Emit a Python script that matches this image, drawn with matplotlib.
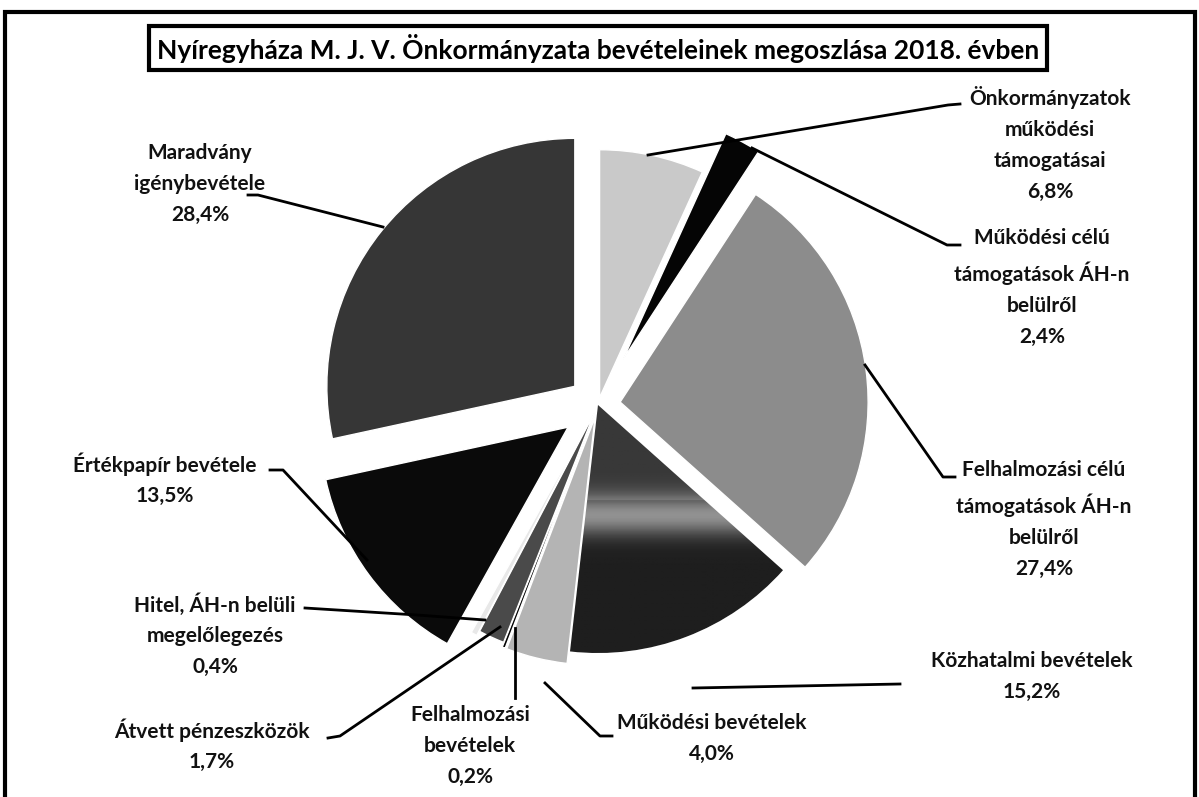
import matplotlib.pyplot as plt
import numpy as np
from matplotlib.patches import Rectangle

plt.rcParams['font.family'] = ['Lato', 'DejaVu Sans']

# adatok (óramutató járása szerint, 12 órától)
labels = ['Önkormányzatok\nműködési\ntámogatásai',
          'Működési célú\ntámogatások ÁH-n\nbelülről',
          'Felhalmozási célú\ntámogatások ÁH-n\nbelülről',
          'Közhatalmi bevételek',
          'Működési bevételek',
          'Felhalmozási\nbevételek',
          'Átvett pénzeszközök',
          'Hitel, ÁH-n belüli\nmegelőlegezés',
          'Értékpapír bevétele',
          'Maradvány\nigénybevétele']
shares = [6.8, 2.4, 27.4, 15.2, 4.0, 0.2, 1.7, 0.4, 13.5, 28.4]
explode = [0.03, 0.21, 0.09, 0.0, 0.05, 0.05, 0.03, 0.05, 0.15, 0.12]
colors = ['#c9c9c9', '#050505', '#8c8c8c', '#1c1c1c', '#b4b4b4',
          '#050505', '#4a4a4a', '#e8e8e8', '#0a0a0a', '#363636']

W, H = 1199, 797
R = 248
fig = plt.figure(figsize=(W / 100, H / 100), dpi=100)
ax = fig.add_axes([0, 0, 1, 1])

def Y(y):
    return H - y

wedges, _ = ax.pie(shares, explode=[e * R for e in explode], colors=colors,
                   startangle=90, counterclock=False, center=(598, Y(405)), radius=R,
                   wedgeprops=dict(edgecolor='white', linewidth=1.0))

# Közhatalmi szelet: világosabb sáv a közepén (szkennelt árnyalás)
rows = np.linspace(400, 660, 200)
shade = 0.12 + 0.1 * (rows < 500) + 0.45 * np.exp(-((rows - 515) / 20) ** 2)
img = ax.imshow(shade[:, None], cmap='gray', vmin=0, vmax=1, aspect='auto',
                extent=(560, 850, Y(660), Y(400)), zorder=wedges[3].get_zorder() + 0.1)
img.set_clip_path(wedges[3])

ax.set_xlim(0, W)
ax.set_ylim(0, H)
ax.set_axis_off()

# címkék helye (közép x, első sor y)
label_pos = [(1050, 98), (1042, 240), (1044, 472), (1032, 663), (712, 725),
             (470, 717), (212, 730), (215, 605), (165, 464), (200, 155)]
for lab, v, (x, y) in zip(labels, shares, label_pos):
    txt = lab + '\n' + f'{v:.1f}%'.replace('.', ',')
    ax.text(x, Y(y) + 12, txt, ha='center', va='top', fontsize=15,
            fontweight='bold', linespacing=1.68, color='#111111')

# vezetővonalak
leaders = [
    ([648, 948, 960], [155, 105, 104]),
    ([752, 947, 960], [148, 245, 245]),
    ([865, 943, 955], [365, 477, 477]),
    ([693, 900], [688, 684]),
    ([545, 600, 612], [683, 736, 736]),
    ([515, 515], [628, 698]),
    ([500, 340, 328], [627, 736, 738]),
    ([485, 417, 305], [620, 615, 608]),
    ([367, 283, 270], [560, 470, 470]),
    ([383, 258, 248], [227, 195, 195]),
]
for xs, ys in leaders:
    ax.plot(xs, [Y(v) for v in ys], color='black', linewidth=2)

# cím kerettel
ax.text(598, Y(48), 'Nyíregyháza M. J. V. Önkormányzata bevételeinek megoszlása 2018. évben',
        ha='center', va='center', fontsize=19, fontweight='bold',
        bbox=dict(boxstyle='square,pad=0.3', facecolor='white', edgecolor='black', linewidth=3))

# külső keret
ax.add_patch(Rectangle((5, -10), 1190, H - 12 + 10, fill=False, edgecolor='black', linewidth=3))

fig.savefig('out.png', dpi=100)
